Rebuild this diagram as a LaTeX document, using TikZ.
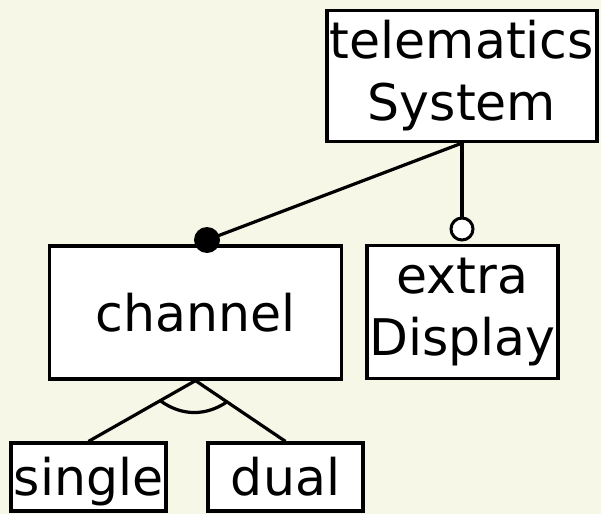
\documentclass[tikz,border=0pt]{standalone}
\usepackage{fontspec}
\setmainfont{DejaVu Sans}
\usetikzlibrary{calc}
\definecolor{bgcream}{RGB}{247,247,232}
\begin{document}
\begin{tikzpicture}[x=1pt,y=-1pt,
  feat/.style={draw=black, line width=3.2pt, fill=white, inner sep=0pt,
    font=\fontsize{50.5}{62}\selectfont, align=center},
  conn/.style={draw=black, line width=3.2pt}]
\fill[bgcream] (0,0) rectangle (601,514);
\useasboundingbox (0,0) rectangle (601,514);
\node[feat, minimum width=270pt, minimum height=131pt] (ts) at (462,76) {telematics\\System};
\node[feat, minimum width=292pt, minimum height=133pt] (chan) at (195.5,312.5) {channel};
\node[feat, minimum width=191pt, minimum height=133pt] (extra) at (462.5,312) {extra\\Display};
\node[feat, minimum width=155pt, minimum height=68pt, text depth=2pt] (single) at (88.5,477) {single};
\node[feat, minimum width=155pt, minimum height=68pt, text depth=2pt] (dual) at (285.5,477) {dual};
\node[circle, fill=black, inner sep=0pt, minimum size=26pt] (mand) at (207,240) {};
\node[circle, draw=black, line width=3pt, fill=white, inner sep=0pt, minimum size=22pt] (opt) at (462,229) {};
\draw[conn] (ts.south) -- (mand.center);
\draw[conn] (ts.south) -- (opt.north);
\draw[conn] (chan.south) -- (single.north);
\draw[conn] (chan.south) -- (dual.north);
\draw[conn] ($(chan.south)!0.33!(single.north)$) to[bend right=35] ($(chan.south)!0.35!(dual.north)$);
\end{tikzpicture}
\end{document}
